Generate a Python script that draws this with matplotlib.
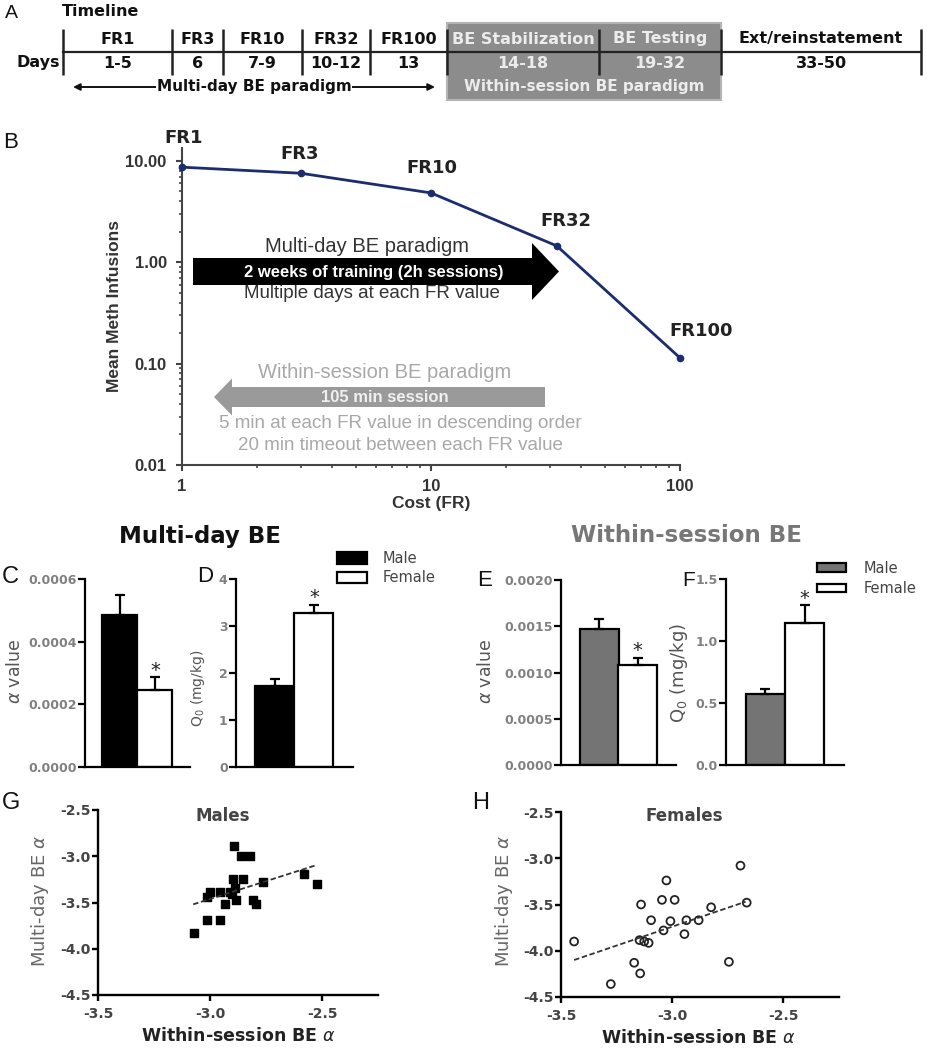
import matplotlib
matplotlib.use("Agg")
import matplotlib.pyplot as plt
from matplotlib.patches import Rectangle, FancyArrow, Patch
from matplotlib.ticker import LogLocator, NullFormatter

plt.rcParams['font.family'] = ['DejaVu Sans']

W, H = 928, 1050
ARIAL = ['Liberation Sans', 'DejaVu Sans']

# ---- panel A: timeline ----
stage_labels = ['FR1', 'FR3', 'FR10', 'FR32', 'FR100', 'BE Stabilization', 'BE Testing', 'Ext/reinstatement']
day_labels = ['1-5', '6', '7-9', '10-12', '13', '14-18', '19-32', '33-50']
within_session_stages = [5, 6]
timeline_x = [63, 172, 223, 302, 370, 447, 599, 721, 921]   # schematic layout, not to scale

# ---- panel B: demand curve ----
fr_values = [1, 3, 10, 32, 100]
fr_names = ['FR1', 'FR3', 'FR10', 'FR32', 'FR100']
mean_infusions = [8.67, 7.55, 4.83, 1.45, 0.114]

# ---- panels C-F: male vs female ----
sexes = ['Male', 'Female']
multi_alpha = [0.000484, 0.000245]
multi_alpha_sem = [0.000064, 0.000042]
multi_q0 = [1.72, 3.28]
multi_q0_sem = [0.15, 0.17]
within_alpha = [0.00147, 0.00108]
within_alpha_sem = [0.00011, 0.00008]
within_q0 = [0.573, 1.145]
within_q0_sem = [0.04, 0.145]

# ---- panels G-H: log alpha correlations ----
male_within = [-2.893, -2.863, -2.821, -2.899, -2.854, -2.762, -2.580, -2.524, -3.000, -3.012, -2.955,
               -2.911, -2.888, -2.884, -2.933, -2.807, -2.795, -3.012, -2.955, -3.071, -2.903]
male_multi = [-2.89, -3.00, -3.00, -3.25, -3.25, -3.275, -3.19, -3.30, -3.385, -3.44, -3.385,
              -3.385, -3.34, -3.47, -3.52, -3.47, -3.52, -3.69, -3.69, -3.83, -3.41]
male_fit_x = [-3.075, -2.524]
male_fit_y = [-3.52, -3.095]

female_within = [-2.693, -3.026, -3.046, -2.989, -3.140, -2.665, -2.825, -3.095, -3.008, -2.936, -2.881,
                 -3.039, -2.945, -3.441, -3.147, -3.106, -3.171, -2.745, -3.144, -3.276, -3.126]
female_multi = [-3.08, -3.24, -3.45, -3.45, -3.50, -3.48, -3.53, -3.67, -3.68, -3.67, -3.67,
                -3.78, -3.82, -3.90, -3.885, -3.915, -4.13, -4.12, -4.245, -4.36, -3.90]
female_fit_x = [-3.441, -2.670]
female_fit_y = [-4.10, -3.47]


fig = plt.figure(figsize=(W / 100, H / 100), dpi=100)


def add_px_axes(left, top, right, bottom):
    return fig.add_axes([left / W, 1 - bottom / H, (right - left) / W, (bottom - top) / H])


def style_axes(ax, lw=1.6, color='black', length=5):
    for side in ('top', 'right'):
        ax.spines[side].set_visible(False)
    for side in ('left', 'bottom'):
        ax.spines[side].set_linewidth(lw)
        ax.spines[side].set_color(color)
    ax.tick_params(direction='out', width=lw, color=color, length=length)


# ---------------- B ----------------
ax_b = add_px_axes(182, 148, 680, 465)
style_axes(ax_b, lw=1.5, color='#444', length=4)
ax_b.set_xscale('log')
ax_b.set_yscale('log')
ax_b.set_xlim(1, 100)
ax_b.set_ylim(0.01, 13.4)
ax_b.plot(fr_values, mean_infusions, color='#1b2d6e', lw=2, marker='o', ms=4.5, clip_on=False, zorder=3)
ax_b.set_yticks([0.01, 0.1, 1, 10])
ax_b.set_yticklabels(['0.01', '0.10', '1.00', '10.00'])
ax_b.set_xticks([1, 10, 100])
ax_b.set_xticklabels(['1', '10', '100'])
ax_b.xaxis.set_minor_locator(LogLocator(base=10, subs=range(2, 10)))
ax_b.yaxis.set_minor_locator(LogLocator(base=10, subs=range(2, 10)))
ax_b.xaxis.set_minor_formatter(NullFormatter())
ax_b.yaxis.set_minor_formatter(NullFormatter())
ax_b.tick_params(which='minor', direction='out', length=2.5, width=1.2, color='#444')
ax_b.tick_params(which='major', axis='y', pad=7)
ax_b.tick_params(which='major', axis='x', pad=6)
for lab in ax_b.get_xticklabels() + ax_b.get_yticklabels():
    lab.set_fontfamily(ARIAL)
    lab.set_fontsize(12)
    lab.set_fontweight('bold')
    lab.set_color('#333')
ax_b.set_ylabel('Mean Meth Infusions', family=ARIAL, fontsize=12.5, fontweight='bold', color='#333',
                va='center')
ax_b.yaxis.set_label_coords(-0.135, 0.5)
ax_b.set_xlabel('Cost (FR)', family=ARIAL, fontsize=12.5, fontweight='bold', color='#333', va='center')
ax_b.xaxis.set_label_coords(0.5, -0.12)
label_offsets = [(1.5, 21), (-0.7, 14), (0.7, 18), (6.5, 18), (15, 19)]
for fr, val, name, off in zip(fr_values, mean_infusions, fr_names, label_offsets):
    ax_b.annotate(name, xy=(fr, val), xytext=off, textcoords='offset points', ha='center', va='center',
                  fontsize=13, fontweight='bold', color='#222', annotation_clip=False)


# ---------------- C-F ----------------
def bar_panel(box, values, sems, male_color, top, yticks, yticklabels, ylabel, label_xy, label_size):
    ax = add_px_axes(*box)
    style_axes(ax, lw=1.6, length=5)
    ax.bar([0, 1], values, width=1.0, color=[male_color, 'white'], edgecolor='black', linewidth=1.6, zorder=2)
    ax.errorbar([0, 1], values, yerr=[[0, 0], sems], fmt='none', ecolor='black', elinewidth=1.6,
                capsize=3.5, capthick=1.6, zorder=3)
    ax.set_xlim(-1, 2)
    ax.set_ylim(0, top)
    ax.set_xticks([])
    ax.set_yticks(yticks)
    ax.set_yticklabels(yticklabels, fontsize=9, fontweight='bold', color='#808080')
    ax.tick_params(axis='y', pad=1)
    ax.annotate('*', xy=(1, values[1] + sems[1]), xytext=(0, 5), textcoords='offset points',
                ha='center', va='center', fontsize=14, color='#222')
    ax.set_ylabel(ylabel, fontsize=label_size, color='#555', va='center')
    ax.yaxis.set_label_coords(*label_xy)
    return ax


bar_panel((85, 579, 190, 767), multi_alpha, multi_alpha_sem, 'black', 0.0006,
          [0, 0.0002, 0.0004, 0.0006], ['0.0000', '0.0002', '0.0004', '0.0006'],
          r'$\alpha$ value', (-0.667, 0.51), 12.5)
bar_panel((236, 579, 353, 767), multi_q0, multi_q0_sem, 'black', 4,
          [0, 1, 2, 3, 4], ['0', '1', '2', '3', '4'],
          r'Q$_0$ (mg/kg)', (-0.325, 0.42), 10)
bar_panel((561, 580, 676, 765), within_alpha, within_alpha_sem, '#747474', 0.002,
          [0, 0.0005, 0.001, 0.0015, 0.002], ['0.0000', '0.0005', '0.0010', '0.0015', '0.0020'],
          r'$\alpha$ value', (-0.652, 0.508), 12.5)
bar_panel((726, 579, 844, 765), within_q0, within_q0_sem, '#747474', 1.5,
          [0, 0.5, 1.0, 1.5], ['0.0', '0.5', '1.0', '1.5'],
          r'Q$_0$ (mg/kg)', (-0.40, 0.495), 13)

legend_d = [Patch(facecolor='black', edgecolor='black', lw=1.6, label=sexes[0]),
            Patch(facecolor='white', edgecolor='black', lw=1.6, label=sexes[1])]
fig.legend(handles=legend_d, loc='upper left', bbox_to_anchor=(337 / W, 1 - 551 / H), frameon=False,
           fontsize=10.5, handlelength=2.05, handleheight=0.8, handletextpad=1.1, labelspacing=0.3,
           borderpad=0, borderaxespad=0, labelcolor='#444')
legend_f = [Patch(facecolor='#747474', edgecolor='black', lw=1.6, label=sexes[0]),
            Patch(facecolor='white', edgecolor='black', lw=1.6, label=sexes[1])]
fig.legend(handles=legend_f, loc='upper left', bbox_to_anchor=(817 / W, 1 - 561 / H), frameon=False,
           fontsize=10.5, handlelength=2.0, handleheight=0.55, handletextpad=1.2, labelspacing=0.35,
           borderpad=0, borderaxespad=0, labelcolor='#444')


# ---------------- G-H ----------------
def scatter_panel(box, xs, ys, fit_x, fit_y, title, title_xy, filled, ylab_xy, xlab_xy):
    ax = add_px_axes(*box)
    style_axes(ax, lw=1.7, length=4.5)
    if filled:
        ax.scatter(xs, ys, marker='s', s=30, c='black', zorder=3, clip_on=False)
    else:
        ax.scatter(xs, ys, marker='o', s=32, facecolors='none', edgecolors='#222', linewidths=1.3,
                   zorder=3, clip_on=False)
    ax.plot(fit_x, fit_y, color='#333', lw=1.3, ls=(0, (3, 1.5)), zorder=4)
    ax.set_xlim(-3.5, -2.25)
    ax.set_ylim(-4.5, -2.5)
    ax.set_xticks([-3.5, -3.0, -2.5])
    ax.set_xticklabels(['-3.5', '-3.0', '-2.5'])
    ax.set_yticks([-4.5, -4.0, -3.5, -3.0, -2.5])
    ax.set_yticklabels(['-4.5', '-4.0', '-3.5', '-3.0', '-2.5'])
    ax.tick_params(axis='y', pad=1)
    ax.tick_params(axis='x', pad=4)
    for lab in ax.get_xticklabels() + ax.get_yticklabels():
        lab.set_fontsize(10)
        lab.set_fontweight('bold')
        lab.set_color('#444')
    ax.text(title_xy[0], title_xy[1], title, transform=ax.transAxes, ha='center', va='center',
            fontsize=12, fontweight='bold', color='#444')
    ax.set_ylabel(r'Multi-day BE $\alpha$', fontsize=13, color='#666', va='center')
    ax.yaxis.set_label_coords(*ylab_xy)
    ax.set_xlabel(r'Within-session BE $\alpha$', fontsize=12.5, fontweight='bold', color='#222', va='center')
    ax.xaxis.set_label_coords(*xlab_xy)
    return ax


scatter_panel((98, 810, 378, 995), male_within, male_multi, male_fit_x, male_fit_y,
              'Males', (0.446, 0.968), True, (-0.207, 0.51), (0.5, -0.222))
scatter_panel((561, 812, 839, 997), female_within, female_multi, female_fit_x, female_fit_y,
              'Females', (0.442, 0.978), False, (-0.205, 0.52), (0.496, -0.222))


# ---------------- overlay: timeline, arrows, titles, panel letters ----------------
ov = fig.add_axes([0, 0, 1, 1])
ov.set_xlim(0, W)
ov.set_ylim(H, 0)
ov.axis('off')

box_l, box_r = timeline_x[within_session_stages[0]], timeline_x[within_session_stages[-1] + 1]
ov.add_patch(Rectangle((box_l, 23), box_r - box_l, 77, facecolor='#8c8c8c', edgecolor='#b4b4b4', lw=1.5))
ov.plot([timeline_x[0], timeline_x[-1]], [52, 52], color='#222', lw=1.6)
ov.vlines(timeline_x, 29, 75, color='#222', lw=1.8)
for i, (stage, days) in enumerate(zip(stage_labels, day_labels)):
    xc = (timeline_x[i] + timeline_x[i + 1]) / 2
    col = '#ececec' if i in within_session_stages else '#111'
    ov.text(xc, 39, stage, ha='center', va='center', fontsize=11.5, fontweight='bold', color=col)
    ov.text(xc, 63, days, ha='center', va='center', fontsize=11.5, fontweight='bold', color=col)
ov.text(62, 12, 'Timeline', ha='left', va='center', fontsize=11.5, fontweight='bold', color='#111')
ov.text(60, 63, 'Days', ha='right', va='center', fontsize=11.5, fontweight='bold', color='#111')
ov.annotate('', xy=(73, 87), xytext=(435, 87),
            arrowprops=dict(arrowstyle='<|-|>', color='#111', lw=1.4, mutation_scale=10, shrinkA=0, shrinkB=0))
ov.text(254, 86, 'Multi-day BE paradigm', ha='center', va='center', fontsize=11, fontweight='bold',
        color='#111', bbox=dict(facecolor='white', edgecolor='none', pad=0.5))
ov.text((box_l + box_r) / 2, 86, 'Within-session BE paradigm', ha='center', va='center', fontsize=11,
        fontweight='bold', color='#ececec')

# panel B schematic arrows
ov.add_patch(FancyArrow(193, 271.5, 366, 0, width=27, head_width=57, head_length=27,
                        length_includes_head=True, color='black', lw=0))
ov.add_patch(FancyArrow(545, 397, -331, 0, width=20, head_width=37, head_length=18,
                        length_includes_head=True, color='#9a9a9a', lw=0))
ov.text(367, 246, 'Multi-day BE paradigm', family=ARIAL, fontsize=14.5, color='#333', ha='center', va='center')
ov.text(374, 272, '2 weeks of training (2h sessions)', family=ARIAL, fontsize=12, fontweight='bold',
        color='white', ha='center', va='center')
ov.text(372, 294, 'Multiple days at each FR value', family=ARIAL, fontsize=13.5, color='#333',
        ha='center', va='center')
ov.text(385, 372, 'Within-session BE paradigm', family=ARIAL, fontsize=14.5, color='#a8a8a8',
        ha='center', va='center')
ov.text(385, 397, '105 min session', family=ARIAL, fontsize=12, fontweight='bold', color='#f0f0f0',
        ha='center', va='center')
ov.text(400, 423, '5 min at each FR value in descending order', family=ARIAL, fontsize=13.5,
        color='#a8a8a8', ha='center', va='center')
ov.text(400, 445, '20 min timeout between each FR value', family=ARIAL, fontsize=13.5, color='#a8a8a8',
        ha='center', va='center')

# section titles
ov.text(200, 537, 'Multi-day BE', fontsize=16.5, fontweight='bold', color='#111', ha='center', va='center')
ov.text(686, 535, 'Within-session BE', fontsize=16.5, fontweight='bold', color='#777', ha='center', va='center')

# panel letters
for letter, x, y, size in [('A', 11, 13, 14), ('B', 11, 142, 16), ('C', 10, 577, 17), ('D', 205, 577, 16),
                           ('E', 485, 580, 16), ('F', 689, 580, 15), ('G', 11, 803, 17), ('H', 481, 803, 17)]:
    ov.text(x, y, letter, family=ARIAL, fontsize=size, color='#111', ha='center', va='center')

fig.savefig('out.png', dpi=100)
